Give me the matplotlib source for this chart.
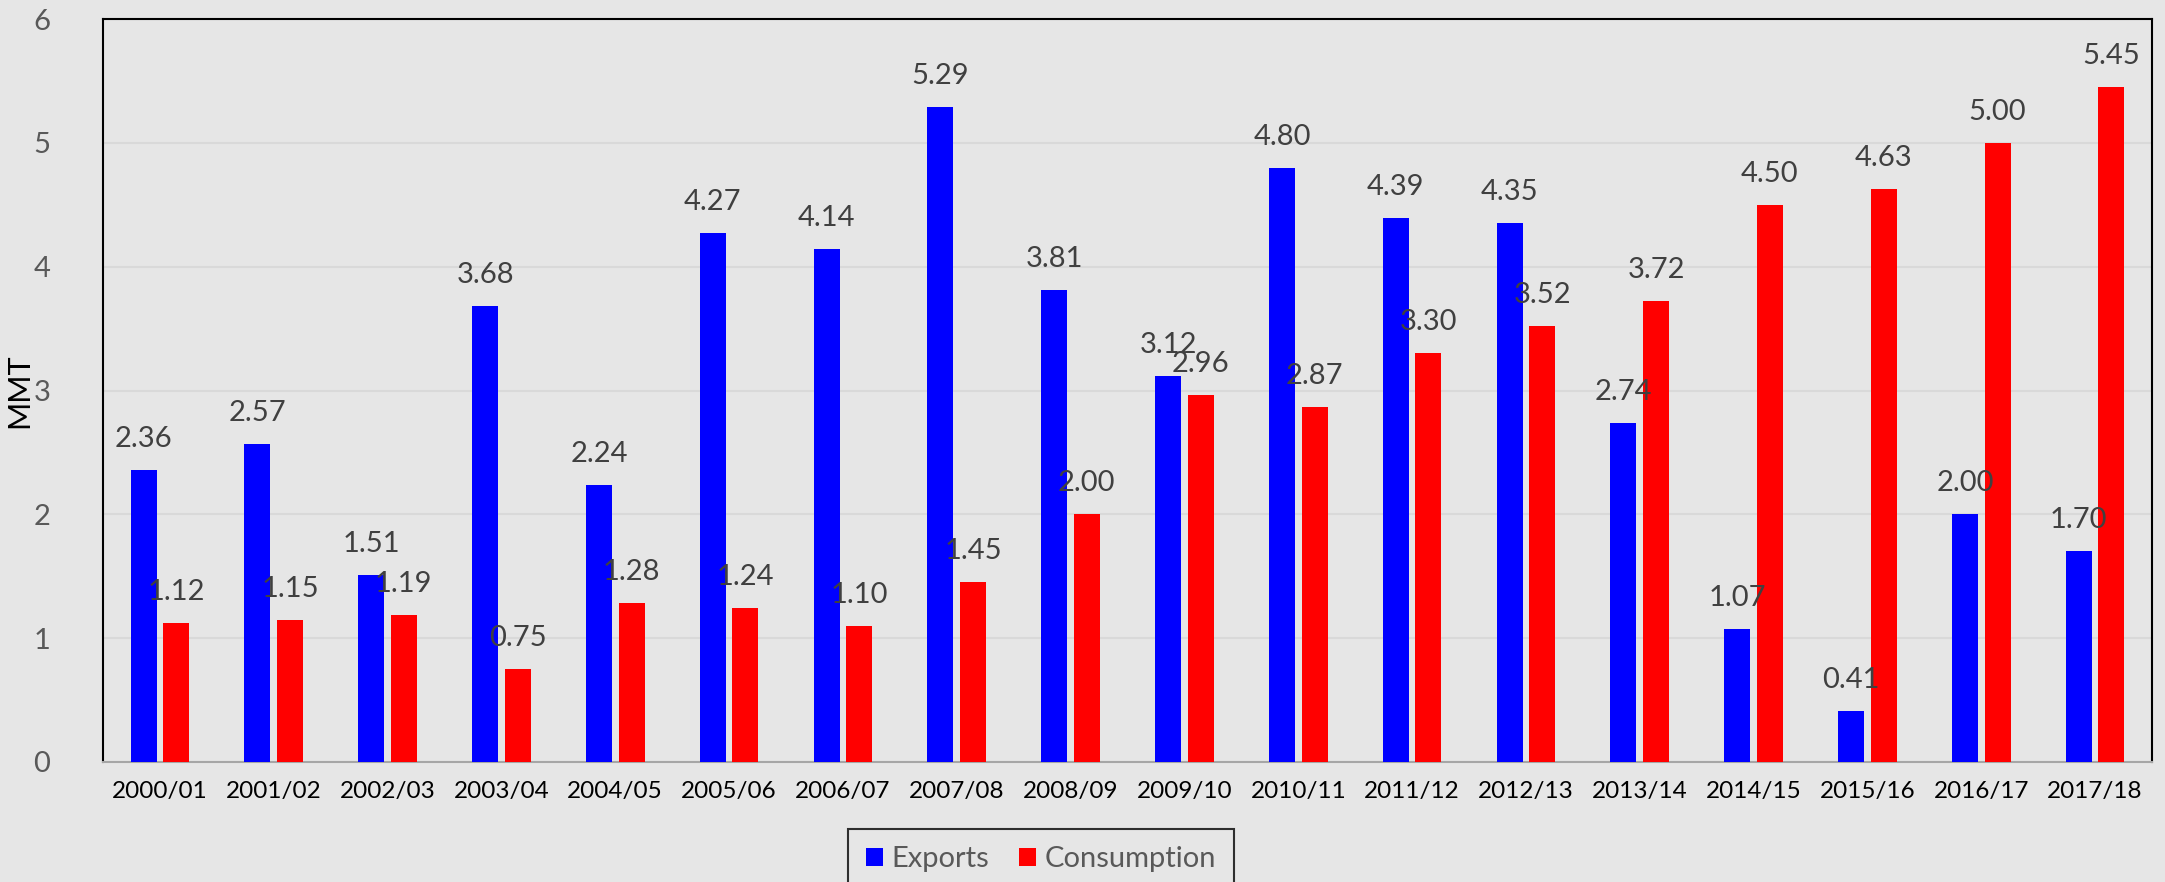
import matplotlib
matplotlib.use("Agg")
import matplotlib.pyplot as plt
import numpy as np

categories = ["2000/01", "2001/02", "2002/03", "2003/04", "2004/05", "2005/06",
              "2006/07", "2007/08", "2008/09", "2009/10", "2010/11", "2011/12",
              "2012/13", "2013/14", "2014/15", "2015/16", "2016/17", "2017/18"]
exports = [2.36, 2.57, 1.51, 3.68, 2.24, 4.27, 4.14, 5.29, 3.81, 3.12, 4.80,
           4.39, 4.35, 2.74, 1.07, 0.41, 2.00, 1.70]
consumption = [1.12, 1.15, 1.19, 0.75, 1.28, 1.24, 1.10, 1.45, 2.00, 2.96,
               2.87, 3.30, 3.52, 3.72, 4.50, 4.63, 5.00, 5.45]
yticks = [0, 1, 2, 3, 4, 5, 6]

plt.rcParams['font.family'] = ['Lato', 'DejaVu Sans']
bg = '#e6e6e6'
fig = plt.figure(figsize=(21.65, 8.82), dpi=100, facecolor=bg)
ax = fig.add_axes([103/2165, 1-762/882, (2152-103)/2165, (762-19)/882])
ax.set_facecolor(bg)

x = np.arange(len(categories))
w = 0.228
off = 0.143
b1 = ax.bar(x - off, exports, w, color='#0000ff', label='Exports', zorder=3)
b2 = ax.bar(x + off, consumption, w, color='#ff0000', label='Consumption', zorder=3)

for bars in (b1, b2):
    for r in bars:
        h = r.get_height()
        ax.annotate(f"{h:.2f}", (r.get_x() + r.get_width()/2, h),
                    xytext=(0, 13), textcoords='offset points',
                    ha='center', va='bottom', fontsize=21, color='#404040', zorder=4)

ax.set_xlim(-0.5, len(categories) - 0.5)
ax.set_ylim(0, 6)
ax.set_yticks(yticks)
ax.set_yticklabels([str(t) for t in yticks], fontsize=21, color='#595959')
ax.set_xticks(x)
ax.set_xticklabels(categories, fontsize=17.5, color='black')
ax.tick_params(axis='both', length=0)
ax.tick_params(axis='y', pad=38)
ax.tick_params(axis='x', pad=14)
ax.yaxis.grid(True, color='#d9d9d9', linewidth=1.5, zorder=0)
ax.set_axisbelow(True)
for s in ('top', 'left', 'right'):
    ax.spines[s].set_color('black')
    ax.spines[s].set_linewidth(1.5)
ax.spines['bottom'].set_color('#a6a6a6')
ax.spines['bottom'].set_linewidth(1.5)

ax.set_ylabel('MMT', fontsize=22, color='black')
ax.yaxis.set_label_coords(-0.034, 0.5)

leg = fig.legend(handles=[b1, b2], loc='upper center',
                 bbox_to_anchor=(1041/2165, 1-829/882), ncol=2,
                 fontsize=21, frameon=True, fancybox=False, edgecolor='black',
                 facecolor=bg, handlelength=0.6, handleheight=0.6,
                 handletextpad=0.3, columnspacing=1.0, borderpad=0.6,
                 borderaxespad=0)
leg.get_frame().set_linewidth(1.5)
for t in leg.get_texts():
    t.set_color('#595959')

fig.savefig('out.png', dpi=100, facecolor=bg)
